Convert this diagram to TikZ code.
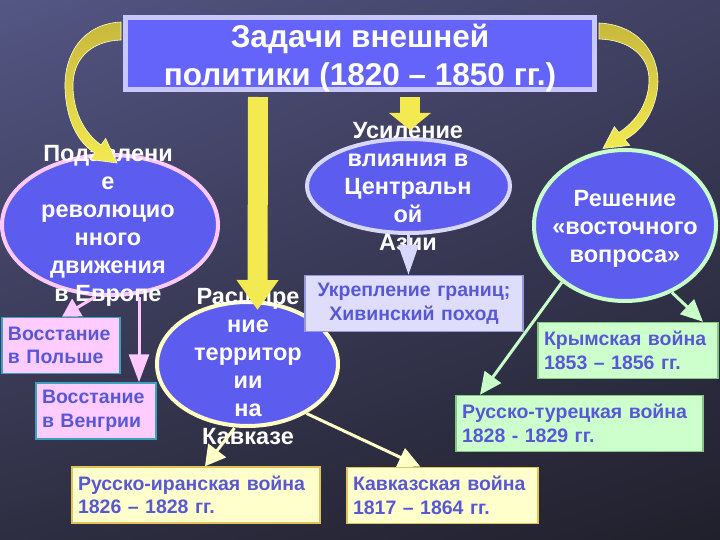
\documentclass[tikz,border=0pt]{standalone}
\usepackage{fontspec}
\setmainfont{Liberation Sans}
\usepackage{tikz}
\usetikzlibrary{positioning}
\usetikzlibrary{shapes}
\usetikzlibrary{shadings}
\usetikzlibrary{arrows.meta}
\definecolor{bgul}{RGB}{84,86,132}
\definecolor{bgur}{RGB}{64,64,98}
\definecolor{bgll}{RGB}{46,46,66}
\definecolor{bglr}{RGB}{32,32,44}
\definecolor{ellblue}{RGB}{92,92,238}
\definecolor{ttlblue}{RGB}{100,100,250}
\definecolor{ttlrim}{RGB}{200,200,255}
\definecolor{factblue}{RGB}{88,88,215}
\definecolor{rimpink}{RGB}{255,200,255}
\definecolor{rimlav}{RGB}{215,215,255}
\definecolor{rimgreen}{RGB}{200,255,200}
\definecolor{rimyellow}{RGB}{255,255,200}
\definecolor{boxpink}{RGB}{255,204,255}
\definecolor{boxlav}{RGB}{222,222,252}
\definecolor{boxgreen}{RGB}{204,255,204}
\definecolor{boxyellow}{RGB}{255,255,204}
\definecolor{edgeteal}{RGB}{60,160,190}
\definecolor{edgelav}{RGB}{150,150,220}
\definecolor{edgegold}{RGB}{225,195,90}
\definecolor{edgegreen}{RGB}{130,200,130}
\definecolor{arryellow}{RGB}{242,234,80}
\definecolor{arrolive}{RGB}{200,184,60}
\tikzset{
  goal/.style={ellipse, fill=ellblue, line width=4pt, inner sep=0pt},
  goaltext/.style={text=white, align=center, font=\fontsize{23.5}{28}\selectfont\bfseries},
  fact/.style={rectangle, line width=1.5pt, inner xsep=6pt, inner ysep=0pt,
    minimum height=56pt, align=left, text=factblue,
    font=\fontsize{19.5}{23.5}\selectfont\bfseries},
  bigarrow/.style={draw=arryellow, line width=20pt},
  thinarrow/.style={line width=3pt},
}

\begin{document}
\begin{tikzpicture}[x=1pt,y=-1pt]
\useasboundingbox (0,0) rectangle (720,540);
\shade[upper left=bgul, upper right=bgur, lower left=bgll, lower right=bglr] (0,0) rectangle (720,540);
% title
\node[rectangle, draw=ttlrim, fill=ttlblue, line width=5pt, minimum width=469pt, minimum height=72pt] (task) at (360,53.5) {};
\node[text=white, align=center, inner sep=0pt, font=\fontsize{31.5}{38}\selectfont\bfseries] (tasktext) at (360,58)
  {Задачи внешней\\политики (1820 -- 1850 гг.)};
% goals
\node[goal, draw=rimpink, minimum width=216pt, minimum height=140pt] (eu) at (110,225) {};
\node[goal, draw=rimlav, minimum width=203pt, minimum height=94pt] (ua) at (408.5,186) {};
\node[goal, draw=rimgreen, minimum width=182pt, minimum height=151pt] (vq) at (625,225.5) {};
\node[goal, draw=rimyellow, minimum width=181pt, minimum height=124pt] (ka) at (247.5,364) {};
\node[goaltext] (eut) at (108,226) {Подавлени\\е\\революцио\\нного\\движения\\в Европе};
\node[goaltext] (uat) at (408,186.5) {Усиление\\влияния в\\Центральн\\ой\\Азии};
\node[goaltext] (vqt) at (625,228.5) {Решение\\«восточного\\вопроса»};
\node[goaltext] (kat) at (248,367) {Расшире\\ние\\территор\\ии\\на\\Кавказе};
% facts
\node[fact, draw=edgeteal, fill=boxpink, text width=106pt] (pl) at (61,345.5) {Восстание\\в Польше};
\node[fact, draw=edgeteal, fill=boxpink, text width=108pt] (hu) at (96,411) {Восстание\\в Венгрии};
\node[fact, draw=edgelav, fill=boxlav, text width=206pt, align=center] (kh) at (414,303.5) {Укрепление границ;\\Хивинский поход};
\node[fact, draw=edgegold, fill=boxyellow, text width=236pt] (ri) at (196,495) {Русско-иранская война\\1826 -- 1828 гг.};
\node[fact, draw=edgegold, fill=boxyellow, text width=179pt] (kv) at (442.5,495.5) {Кавказская война\\1817 -- 1864 гг.};
\node[fact, draw=edgegreen, fill=boxgreen, text width=168pt] (cr) at (628,350.5) {Крымская война\\1853 -- 1856 гг.};
\node[fact, draw=edgegreen, fill=boxgreen, text width=235pt] (rt) at (579.5,423.5) {Русско-турецкая война\\1828 - 1829 гг.};
% curved arrows
\shadedraw[top color=arrolive, bottom color=arryellow, draw=rimyellow, line width=0.6pt]
  (121,22) .. controls (82,24) and (64,55) .. (65,88) .. controls (66,120) and (78,143) .. (95,153)
  -- (90.3,159.5) -- (117,163) -- (105.7,138.5) -- (101,145)
  .. controls (86,134) and (74,115) .. (73,88) .. controls (72,60) and (90,41) .. (121,40) -- cycle;
\shadedraw[top color=arrolive, bottom color=arryellow, draw=rimyellow, line width=0.6pt]
  (599,23) .. controls (638,24.8) and (658,52.4) .. (658,81.7) .. controls (657,110.2) and (642,130.7) .. (625,139.6)
  -- (629.7,145.4) -- (603,148.5) -- (614.3,126.7) -- (619,132.5)
  .. controls (634,122.7) and (648,105.8) .. (649,81.7) .. controls (650,56.8) and (630,39.9) .. (599,39) -- cycle;
% straight arrows
\draw[bigarrow, -{Triangle[width=40pt,length=30pt]}] ([xshift=-102pt,yshift=-5pt]task.south) -- ([xshift=10pt,yshift=-10pt]ka.north);
\draw[bigarrow, -{Triangle[width=41pt,length=17pt]}] ([xshift=50pt,yshift=-5pt]task.south) -- ([xshift=1.5pt,yshift=7pt]ua.north);
\draw[thinarrow, rimpink, -{Triangle[width=20pt,length=18pt]}] ([xshift=-15pt]eu.south) -- ([xshift=1pt]pl.north);
\draw[thinarrow, rimpink, -{Triangle[width=20pt,length=28pt]}] ([xshift=29pt]eu.south) -- ([xshift=43pt]hu.north);
\draw[thinarrow, rimlav, -{Triangle[width=20pt,length=30pt]}] (ua.south) -- ([xshift=-5.5pt]kh.north);
\draw[thinarrow, rimyellow, -{Triangle[width=22pt,length=20pt]}] ([xshift=-13pt]ka.south) -- ([xshift=9pt]ri.north);
\draw[thinarrow, rimyellow, -{Triangle[width=20pt,length=22pt]}] (ka.-40) -- ([xshift=-22pt]kv.north);
\draw[thinarrow, rimgreen, -{Triangle[width=20pt,length=22pt]}] (vq.-138) -- ([xshift=-99.5pt]rt.north);
\draw[thinarrow, rimgreen, -{Triangle[width=20pt,length=22pt]}] (vq.-55) -- ([xshift=75pt]cr.north);
\end{tikzpicture}
\end{document}
